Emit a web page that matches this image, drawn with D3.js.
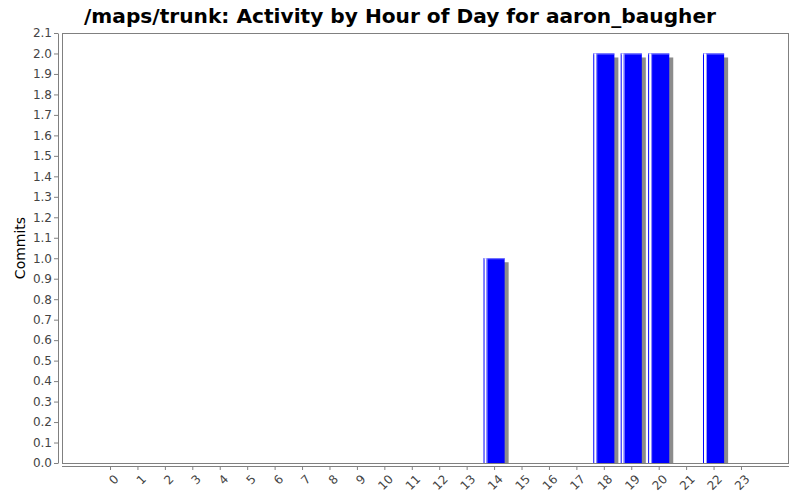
<!DOCTYPE html>
<html>
<head>
<meta charset="utf-8">
<script src="https://cdn.jsdelivr.net/npm/d3@7"></script>
<style>
  body { margin: 0; background: #fff; }
  svg { display: block; }
</style>
</head>
<body>
<svg id="chart" width="800" height="500"></svg>
<script>
const title = '/maps/trunk: Activity by Hour of Day for aaron_baugher'
const hours = ['0','1','2','3','4','5','6','7','8','9','10','11','12','13','14','15','16','17','18','19','20','21','22','23']
const commits = [0,0,0,0,0,0,0,0,0,0,0,0,0,0,1,0,0,0,2,2,2,0,2,0]
const yTicks = [0,0.1,0.2,0.3,0.4,0.5,0.6,0.7,0.8,0.9,1.0,1.1,1.2,1.3,1.4,1.5,1.6,1.7,1.8,1.9,2.0,2.1]

const svg = d3.select('#chart')
const plot = {left: 62, right: 789, top: 33, bottom: 463}
const axisColor = '#808080'
const labelColor = '#444'
const font = '"DejaVu Sans", sans-serif'

const x = d3.scalePoint()
  .domain(hours)
  .range([plot.left, plot.right])
  .padding(1.75)
const barWidth = x.step() * 0.77

const y = d3.scaleLinear()
  .domain([0, 2.1])
  .range([plot.bottom, plot.top])

// title
svg.append('text')
  .text(title)
  .attr('x', 400)
  .attr('y', 23)
  .attr('text-anchor', 'middle')
  .attr('font-family', font)
  .attr('font-weight', 'bold')
  .attr('font-size', 20)
  .attr('textLength', 632)
  .attr('lengthAdjust', 'spacingAndGlyphs')
  .attr('fill', '#000')

// plot border
svg.append('rect')
  .attr('x', plot.left + 0.5)
  .attr('y', plot.top + 0.5)
  .attr('width', plot.right - plot.left - 1)
  .attr('height', plot.bottom - plot.top)
  .attr('fill', '#fff')
  .attr('stroke', axisColor)

// bars
const bars = svg.append('g')
const data = hours.map((h, i) => ({hour: h, value: commits[i]})).filter(d => d.value > 0)

bars.selectAll('rect.shadow')
  .data(data)
  .join('rect')
  .attr('class', 'shadow')
  .attr('x', d => x(d.hour) - barWidth / 2 + 4)
  .attr('y', d => y(d.value) + 4)
  .attr('width', barWidth)
  .attr('height', d => plot.bottom - y(d.value) - 4)
  .attr('fill', '#8c8c8c')

bars.selectAll('rect.bar')
  .data(data)
  .join('rect')
  .attr('class', 'bar')
  .attr('x', d => x(d.hour) - barWidth / 2)
  .attr('y', d => y(d.value))
  .attr('width', barWidth)
  .attr('height', d => plot.bottom - y(d.value))
  .attr('fill', '#0000ff')

// top highlight edge
bars.selectAll('rect.top')
  .data(data)
  .join('rect')
  .attr('class', 'top')
  .attr('x', d => x(d.hour) - barWidth / 2)
  .attr('y', d => y(d.value))
  .attr('width', barWidth)
  .attr('height', 1)
  .attr('fill', '#8080ff')

// left white stripe
bars.selectAll('rect.hi')
  .data(data)
  .join('rect')
  .attr('class', 'hi')
  .attr('x', d => x(d.hour) - barWidth / 2 + 1)
  .attr('y', d => y(d.value))
  .attr('width', 2)
  .attr('height', d => plot.bottom - y(d.value))
  .attr('fill', '#fff')

bars.selectAll('rect.hi2')
  .data(data)
  .join('rect')
  .attr('class', 'hi2')
  .attr('x', d => x(d.hour) - barWidth / 2 + 3)
  .attr('y', d => y(d.value))
  .attr('width', 1)
  .attr('height', d => plot.bottom - y(d.value))
  .attr('fill', '#9999ff')

// y axis
const yAxis = svg.append('g')
  .attr('transform', 'translate(58,0)')
  .call(d3.axisLeft(y).tickValues(yTicks).tickFormat(d3.format('.1f')).tickSize(4).tickSizeOuter(0))
yAxis.select('.domain').attr('stroke', axisColor)
yAxis.selectAll('.tick line').attr('stroke', axisColor)
yAxis.selectAll('.tick text')
  .attr('font-family', font)
  .attr('font-size', 12)
  .attr('fill', labelColor)
  .attr('x', -6)

svg.append('text')
  .text('Commits')
  .attr('transform', 'translate(25,' + ((plot.top + plot.bottom) / 2) + ') rotate(-90)')
  .attr('text-anchor', 'middle')
  .attr('font-family', font)
  .attr('font-size', 14)
  .attr('fill', '#000')

// x axis
const xAxis = svg.append('g')
  .attr('transform', 'translate(0,466)')
  .call(d3.axisBottom(x).tickSize(4).tickSizeOuter(0))
xAxis.select('.domain').attr('stroke', axisColor)
  .attr('d', `M${plot.left},0.5H${plot.right}`)
xAxis.selectAll('.tick line').attr('stroke', axisColor)
xAxis.selectAll('.tick text')
  .attr('font-family', font)
  .attr('font-size', 12)
  .attr('fill', labelColor)
  .attr('text-anchor', 'end')
  .attr('dy', 0)
  .attr('transform', 'translate(4,9) rotate(-45)')
</script>
</body>
</html>
